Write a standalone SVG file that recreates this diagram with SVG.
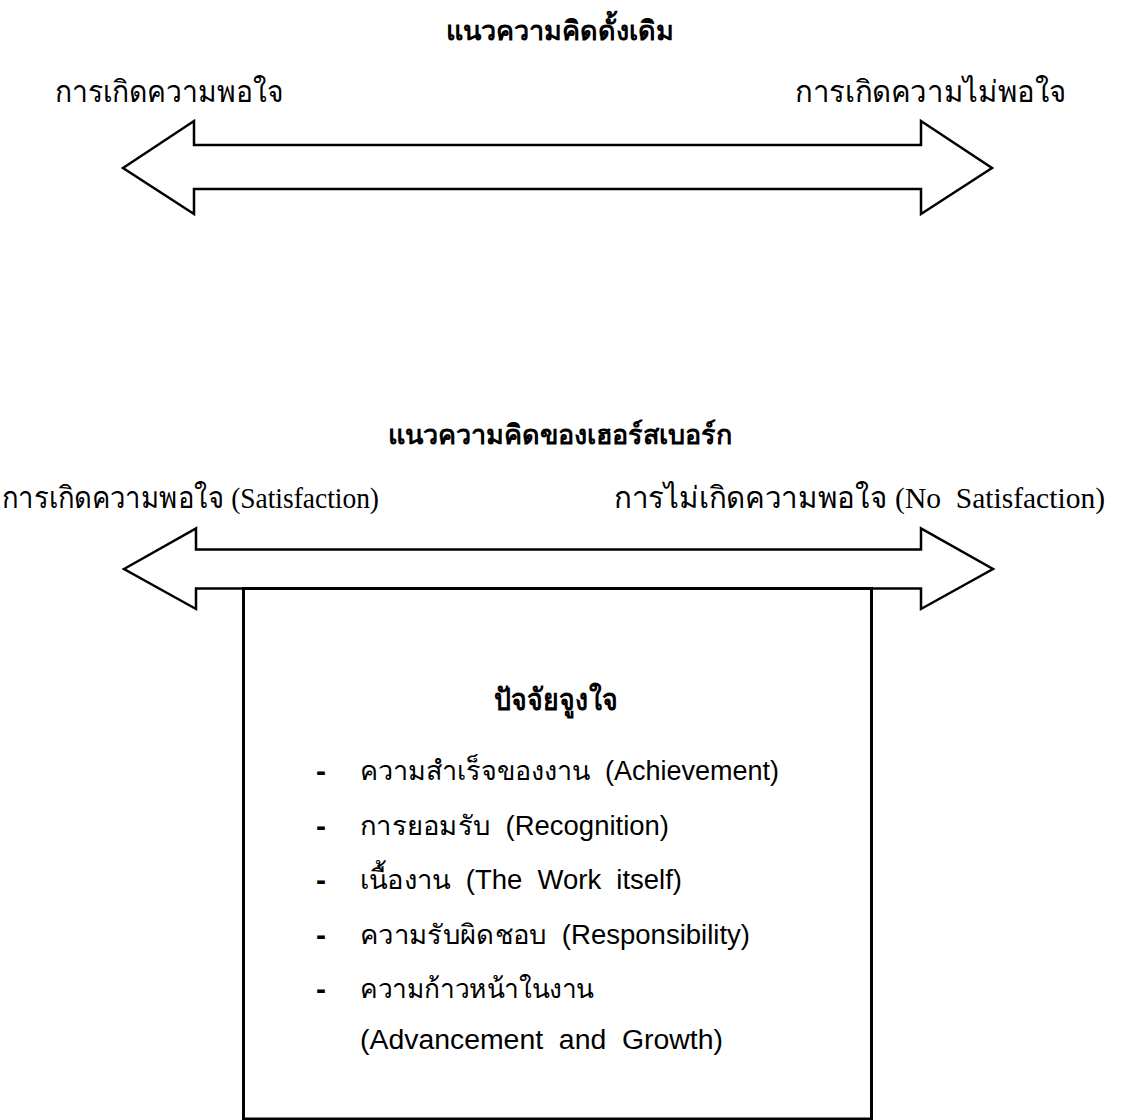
<svg xmlns="http://www.w3.org/2000/svg" width="1121" height="1120" viewBox="0 0 1121 1120">
<style>
text{white-space:pre}
.ar{fill:#fff;stroke:#000;stroke-width:2.5;stroke-linejoin:miter}
.bx{fill:#fff;stroke:#000;stroke-width:3}
.hd{font-family:"Liberation Serif",serif;font-weight:bold;font-size:27px;fill:#000}
.lb{font-family:"Liberation Serif",serif;font-size:30px;fill:#000}
.it{font-family:"Liberation Sans",sans-serif;font-size:27px;fill:#000}
.ds{font-family:"Liberation Sans",sans-serif;font-weight:bold;font-size:30px;fill:#000}
.ib{font-family:"Liberation Serif",serif;font-weight:bold;font-size:30px;fill:#000}
</style>
<rect width="1121" height="1120" fill="#fff"/>
<g id="title1"><text class="hd" x="560" y="40" text-anchor="middle">แนวความคิดดั้งเดิม</text></g>
<g id="label-sat1"><text class="lb" x="55" y="102" textLength="229" lengthAdjust="spacingAndGlyphs">การเกิดความพอใจ</text></g>
<g id="label-dissat1"><text class="lb" x="795" y="102" textLength="272" lengthAdjust="spacingAndGlyphs">การเกิดความไม่พอใจ</text></g>
<g id="title2"><text class="hd" x="560" y="444" text-anchor="middle">แนวความคิดของเฮอร์สเบอร์ก</text></g>
<g id="label-sat2"><text class="lb" x="2" y="508" textLength="377" lengthAdjust="spacingAndGlyphs">การเกิดความพอใจ (Satisfaction)</text></g>
<g id="label-nosat2"><text class="lb" x="614" y="508" textLength="491" lengthAdjust="spacingAndGlyphs">การไม่เกิดความพอใจ (No  Satisfaction)</text></g>
<g id="connectors">
<polygon id="arrow1" class="ar" points="123,168 194,121 194,145 921,145 921,121 992,168 921,214 921,189 194,189 194,214"/>
<polygon id="arrow2" class="ar" points="124,569 196,528.5 196,549.5 921,549.5 921,528.5 993,569 921,609 921,588.5 196,588.5 196,609"/>
</g>
<g id="motivators">
<rect class="bx" x="243.5" y="588.5" width="628" height="530.5"/>
<text class="ib" x="556" y="710" text-anchor="middle" textLength="124" lengthAdjust="spacingAndGlyphs">ปัจจัยจูงใจ</text>
<text class="ds" x="316" y="781">-</text><text class="it" x="360" y="780" textLength="419" lengthAdjust="spacingAndGlyphs">ความสำเร็จของงาน  (Achievement)</text>
<text class="ds" x="316" y="836">-</text><text class="it" x="360" y="835" textLength="309" lengthAdjust="spacingAndGlyphs">การยอมรับ  (Recognition)</text>
<text class="ds" x="316" y="890">-</text><text class="it" x="360" y="889" textLength="322" lengthAdjust="spacingAndGlyphs">เนื้องาน  (The  Work  itself)</text>
<text class="ds" x="316" y="945">-</text><text class="it" x="360" y="944" textLength="390" lengthAdjust="spacingAndGlyphs">ความรับผิดชอบ  (Responsibility)</text>
<text class="ds" x="316" y="999">-</text><text class="it" x="360" y="998" textLength="234" lengthAdjust="spacingAndGlyphs">ความก้าวหน้าในงาน</text>
<text class="it" x="360" y="1049" textLength="363" lengthAdjust="spacingAndGlyphs">(Advancement  and  Growth)</text>
</g>
</svg>
